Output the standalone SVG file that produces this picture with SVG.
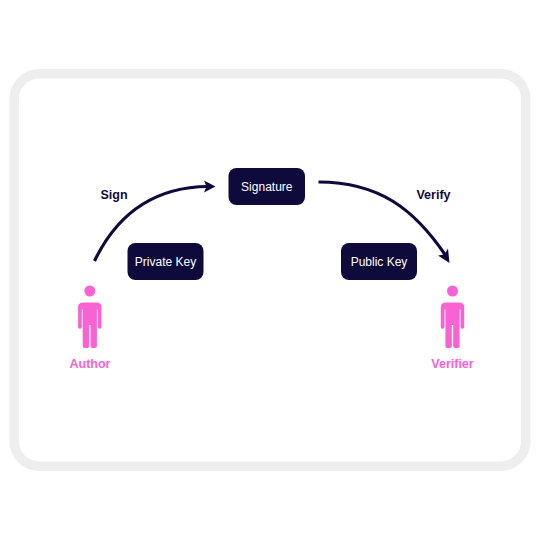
<svg xmlns="http://www.w3.org/2000/svg" width="540" height="540" viewBox="0 0 540 540">
<style>
.frame{fill:#fff;stroke:#eeeeee;stroke-width:9.5}
.box{fill:#0f0a3c}
.boxtext{fill:#fff;font:400 12px "Liberation Sans",Arial,sans-serif;text-anchor:middle}
.edge{fill:none;stroke:#0f0a3c;stroke-width:3.200}
.edgetext{fill:#0f0a3c;font:700 12.500px "Liberation Sans",Arial,sans-serif;text-anchor:middle}
.who{fill:#f862d2}
.whotext{fill:#f862d2;font:700 12.500px "Liberation Sans",Arial,sans-serif;text-anchor:middle}
</style>
<defs>
<path id="person" d="M-6.6 -45.5H6.6Q11.7 -45.5 11.7 -41V-21Q11.7 -19.3 10 -19.3Q8 -19.3 8 -21V-38.5H7.1V-1.8Q7.1 0 5 0H2.5Q.7 0 .7 -1.8V-23H-.7V-1.8Q-.7 0 -2.5 0H-5Q-7.1 0 -7.1 -1.8V-38.5H-8V-21Q-8 -19.3 -10 -19.3Q-11.7 -19.3 -11.7 -21V-41Q-11.7 -45.5 -6.6 -45.5Z"/>
</defs>
<rect width="540" height="540" fill="#fff"/>
<rect id="frame" class="frame" x="14.200" y="73.800" width="511.600" height="392.400" rx="25" ry="25"/>
<g id="connectors">
<path class="edge" d="M94.500 261C120 208 160 187 208 186.500"/>
<path d="M204 180.500L215.500 186.500L204 192.500L206.500 186.500Z" fill="#0f0a3c"/>
<path class="edge" d="M318.500 182C380 182 415 210 446 256"/>
<path d="M449.500 263L438 255.500L444.500 254.500L448 248.500Z" fill="#0f0a3c"/>
</g>
<g id="signature"><rect class="box" x="228.500" y="168" width="76.500" height="37" rx="8"/><text class="boxtext" x="266.800" y="191">Signature</text></g>
<g id="private-key"><rect class="box" x="127.500" y="243" width="76" height="37" rx="8"/><text class="boxtext" x="165.500" y="265.500">Private Key</text></g>
<g id="public-key"><rect class="box" x="341" y="243" width="76" height="37" rx="8"/><text class="boxtext" x="379" y="265.500">Public Key</text></g>
<g id="sign"><text class="edgetext" x="114" y="198.500">Sign</text></g>
<g id="verify"><text class="edgetext" x="433.500" y="198.500">Verify</text></g>
<g id="author"><circle class="who" cx="89.800" cy="291" r="5.500"/><use class="who" href="#person" x="89.800" y="348"/><text class="whotext" x="90" y="368">Author</text></g>
<g id="verifier"><circle class="who" cx="452.500" cy="291" r="5.500"/><use class="who" href="#person" x="452.500" y="348"/><text class="whotext" x="452.500" y="368">Verifier</text></g>
</svg>
